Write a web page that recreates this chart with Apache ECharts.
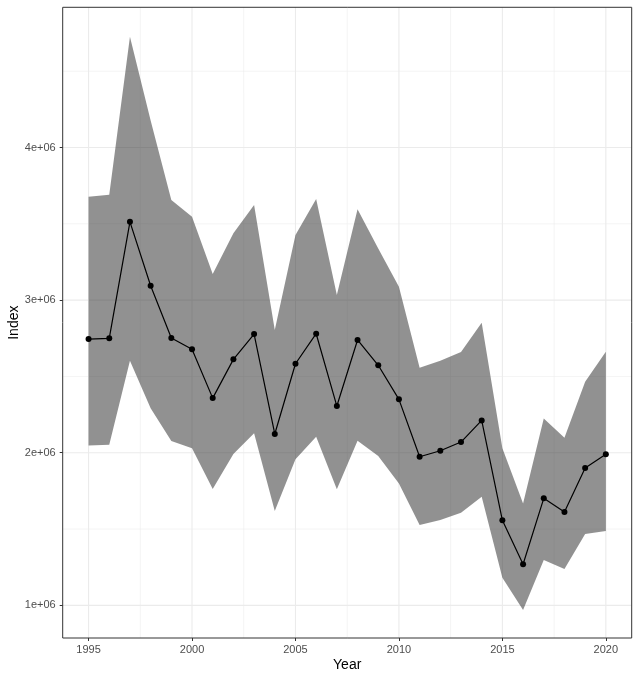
<!DOCTYPE html>
<html>
<head>
<meta charset="utf-8">
<title>Index by year</title>
<script src="https://cdn.jsdelivr.net/npm/echarts@6/dist/echarts.min.js"></script>
<style>
    html, body { margin: 0; padding: 0; background: #fff; }
    #chart { width: 639px; height: 680px; }
</style>
</head>
<body>
<div id="chart"></div>
<script>
var years = [1995, 1996, 1997, 1998, 1999, 2000, 2001, 2002, 2003, 2004, 2005, 2006, 2007,
    2008, 2009, 2010, 2011, 2012, 2013, 2014, 2015, 2016, 2017, 2018, 2019, 2020];

var index = [2745000, 2750000, 3513000, 3094000, 2752000, 2678000, 2358000, 2612000, 2778000,
    2123000, 2583000, 2780000, 2306000, 2739000, 2573000, 2350000, 1974000, 2013000, 2070000,
    2212000, 1557000, 1269000, 1701000, 1611000, 1900000, 1990000];

var upper = [3678000, 3691000, 4726000, 4178000, 3656000, 3547000, 3171000, 3438000, 3623000,
    2804000, 3427000, 3662000, 3033000, 3596000, 3339000, 3088000, 2557000, 2603000, 2660000,
    2852000, 2029000, 1668000, 2225000, 2098000, 2465000, 2662000];

var lower = [2048000, 2052000, 2603000, 2291000, 2077000, 2029000, 1762000, 1991000, 2127000,
    1618000, 1957000, 2105000, 1760000, 2078000, 1978000, 1799000, 1526000, 1559000, 1607000,
    1712000, 1181000, 969000, 1297000, 1238000, 1467000, 1487000];

// tick labels and grid lines
var xTicks = [1995, 2000, 2005, 2010, 2015, 2020];
var xMinor = [1997.5, 2002.5, 2007.5, 2012.5, 2017.5];
var yTicks = [1000000, 2000000, 3000000, 4000000];
var yMinor = [1500000, 2500000, 3500000, 4500000];

(function (win) {
    var chart = echarts.init(document.getElementById('chart'), null, { renderer: 'canvas' });

    var font = '"Liberation Sans", Arial, Helvetica, sans-serif';

    function pairs(vals) {
        var out = [];
        for (var i = 0; i < years.length; i++) {
            out.push([years[i], vals[i]]);
        }
        return out;
    }

    // grid lines: [value, 'x'|'y', major?]
    var gridData = [];
    xMinor.forEach(function (v) { gridData.push([v, 0, 0]); });
    yMinor.forEach(function (v) { gridData.push([v, 1, 0]); });
    xTicks.forEach(function (v) { gridData.push([v, 0, 1]); });
    yTicks.forEach(function (v) { gridData.push([v, 1, 1]); });

    // ribbon rows: [year, lower, upper]
    var bandData = [];
    for (var i = 0; i < years.length; i++) {
        bandData.push([years[i], lower[i], upper[i]]);
    }

    function renderGrid(params, api) {
        var cs = params.coordSys;
        var v = api.value(0),
            isY = api.value(1) === 1,
            major = api.value(2) === 1;
        var x1, y1, x2, y2;
        if (isY) {
            var py = api.coord([2000, v])[1];
            x1 = cs.x; x2 = cs.x + cs.width; y1 = y2 = py;
        } else {
            var px = api.coord([v, 2000000])[0];
            y1 = cs.y; y2 = cs.y + cs.height; x1 = x2 = px;
        }
        return {
            type: 'line',
            shape: { x1: x1, y1: y1, x2: x2, y2: y2 },
            style: { stroke: '#EBEBEB', lineWidth: major ? 1.1 : 0.55 },
            silent: true
        };
    }

    function renderBand(params, api) {
        if (params.dataIndex !== 0) return;
        var top = [], bottom = [];
        for (var i = 0; i < bandData.length; i++) {
            top.push(api.coord([bandData[i][0], bandData[i][2]]));
            bottom.push(api.coord([bandData[i][0], bandData[i][1]]));
        }
        return {
            type: 'polygon',
            shape: { points: top.concat(bottom.reverse()) },
            style: { fill: 'rgba(45,45,45,0.52)' },
            silent: true
        };
    }

    chart.setOption({
        backgroundColor: '#fff',
        animation: false,
        grid: {
            left: 62.7,
            right: 7.3,
            top: 7.3,
            bottom: 42,
            outerBoundsMode: 'none',
            containLabel: false,
            show: true,
            borderColor: '#333333',
            borderWidth: 1,
            z: 10
        },
        xAxis: {
            type: 'value',
            min: 1993.75,
            max: 2021.25,
            name: 'Year',
            nameLocation: 'middle',
            nameGap: 20,
            nameMoveOverlap: false,
            nameTextStyle: { color: '#000', fontSize: 14, fontFamily: font },
            axisLine: { show: false },
            axisTick: { show: true, length: 3, lineStyle: { color: '#333333' }, customValues: xTicks },
            axisLabel: {
                color: '#4D4D4D', fontSize: 11, fontFamily: font, margin: 6,
                customValues: xTicks,
                formatter: function (v) { return String(v); }
            },
            splitLine: { show: false }
        },
        yAxis: {
            type: 'value',
            min: 786000,
            max: 4919000,
            name: 'Index',
            nameLocation: 'middle',
            nameGap: 42,
            nameMoveOverlap: false,
            nameTextStyle: { color: '#000', fontSize: 14, fontFamily: font },
            axisLine: { show: false },
            axisTick: { show: true, length: 3, lineStyle: { color: '#333333' }, customValues: yTicks },
            axisLabel: {
                color: '#4D4D4D', fontSize: 11, fontFamily: font, margin: 7,
                customValues: yTicks,
                formatter: function (v) { return (v / 1e6) + 'e+06'; }
            },
            splitLine: { show: false }
        },
        series: [
            {
                type: 'custom',
                data: gridData,
                renderItem: renderGrid,
                silent: true,
                z: 0
            },
            {
                type: 'custom',
                data: bandData,
                renderItem: renderBand,
                encode: { x: 0, y: [1, 2] },
                silent: true,
                z: 1
            },
            {
                name: 'Index',
                type: 'line',
                data: pairs(index),
                symbol: 'circle',
                symbolSize: 6,
                showSymbol: true,
                itemStyle: { color: '#000' },
                lineStyle: { color: '#000', width: 1.2 },
                z: 3
            }
        ]
    });
})(this);
</script>
</body>
</html>
